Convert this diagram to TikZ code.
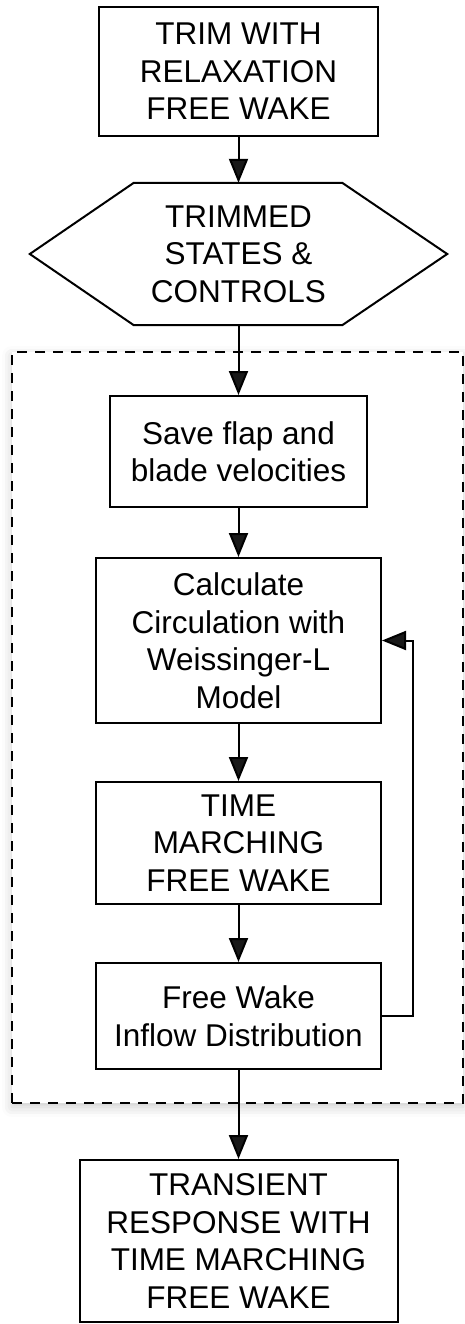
\documentclass[tikz,border=0pt]{standalone}
\usepackage{fontspec}
\setmainfont{Liberation Sans}
\usetikzlibrary{arrows.meta,shadows.blur}
\begin{document}
\begin{tikzpicture}[x=1pt,y=-1pt,
  txt/.style={align=center, inner sep=0pt, font=\fontsize{31.5}{37.5}\selectfont},
  box/.style={txt, draw, line width=2pt, fill=white},
  conn/.style={line width=2pt, line join=miter, -{Triangle[length=24pt,width=19pt]}},
  grpbox/.style={draw, dash pattern=on 10pt off 8pt, line width=2pt, inner sep=0pt},
]
\useasboundingbox (0,0) rectangle (464,1324);
% group with soft shadow
\path[fill=white, blur shadow={shadow xshift=0pt, shadow yshift=-4pt, shadow blur radius=10pt, shadow opacity=20}] (12,352) rectangle (463,1103);
\node[grpbox, minimum width=451pt, minimum height=751pt] (grp) at (237.5,727.5) {};

\node[box, minimum width=279pt, minimum height=129pt] (trim) at (238.5,71.5) {TRIM WITH\\RELAXATION\\FREE WAKE};
\node[txt, minimum width=417pt, minimum height=142pt] (hex) at (238.5,254) {TRIMMED\\STATES \&\\CONTROLS};
\draw[line width=2pt, line join=miter] (hex.west) -- ([xshift=104pt]hex.north west) -- ([xshift=-105pt]hex.north east) -- (hex.east) -- ([xshift=-105pt]hex.south east) -- ([xshift=104pt]hex.south west) -- cycle;

\node[box, minimum width=257pt, minimum height=111pt] (save) at (238.5,451.5) {Save flap and\\blade velocities};
\node[box, minimum width=285pt, minimum height=165pt] (calc) at (238.5,640.5) {Calculate\\Circulation with\\Weissinger-L\\Model};
\node[box, minimum width=285pt, minimum height=122pt] (time) at (238.5,843) {TIME\\MARCHING\\FREE WAKE};
\node[box, minimum width=285pt, minimum height=106pt] (fw) at (238.5,1016) {Free Wake\\Inflow Distribution};
\node[box, minimum width=318pt, minimum height=162pt] (trans) at (238.5,1241) {TRANSIENT\\RESPONSE WITH\\TIME MARCHING\\FREE WAKE};

\coordinate (fbc) at (413,1016);
\draw[conn] (trim) -- (hex.north);
\draw[conn] (hex.south) -- (save);
\draw[conn] (save) -- (calc);
\draw[conn] (calc) -- (time);
\draw[conn] (time) -- (fw);
\draw[conn] (fw.east) -- (fbc) |- (calc.east);
\draw[conn] (fw) -- (trans);
\end{tikzpicture}
\end{document}
